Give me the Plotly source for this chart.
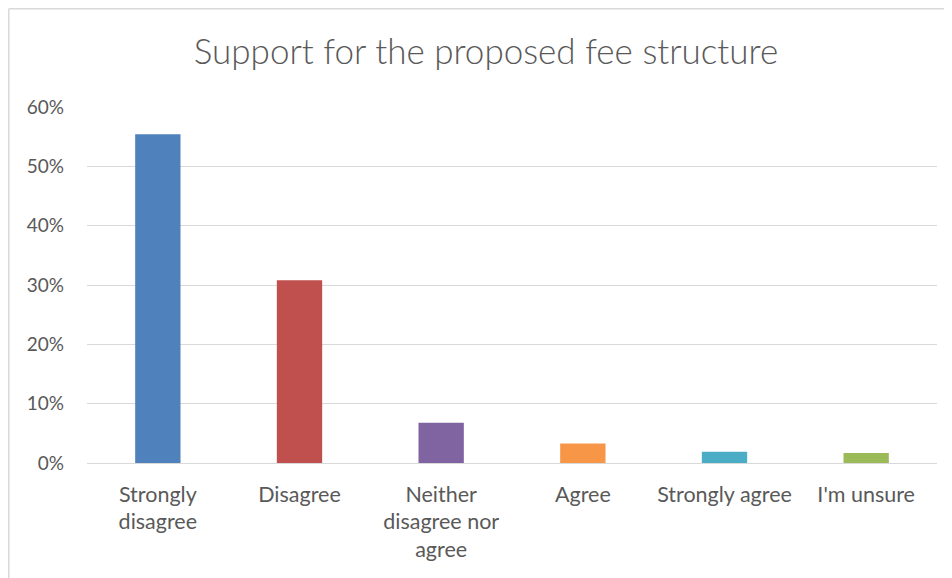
import plotly.graph_objects as go

categories = ["Strongly<br>disagree", "Disagree", "Neither<br>disagree nor<br>agree", "Agree", "Strongly agree", "I'm unsure"]
values = [0.554, 0.308, 0.068, 0.033, 0.019, 0.017]
colors = ["#4F81BD", "#C0504D", "#8064A2", "#F79646", "#4BACC6", "#9BBB59"]
y_ticks = [0, 0.1, 0.2, 0.3, 0.4, 0.5, 0.6]
y_labels = ["0%", "10%", "20%", "30%", "40%", "50%", "60%"]

# page is offset by the browser's default 8px body margin; keep figure inside the window
OFF = 8
W, H = 952 - OFF, 578 - OFF
L, R, T, B = 87 - OFF, 15, 107 - OFF, 115
pw = W - L - R
ph = H - T - B

fig = go.Figure(go.Bar(x=categories, y=values, marker=dict(color=colors, line=dict(width=0)),
                       width=0.32, hoverinfo="skip"))

font = "Lato"
txt = "#595959"

bx0 = (0.8 - L) / pw
bx1 = (W - L) / pw
by0 = (H - B - H) / ph
by1 = (H - B - 0.8) / ph
border = dict(color="#D9D9D9", width=1.5)

fig.update_layout(
    width=W, height=H,
    margin=dict(l=L, r=R, t=T, b=B),
    paper_bgcolor="white", plot_bgcolor="white",
    showlegend=False,
    font=dict(family=font, color=txt, size=19),
    title=dict(text="Support for the proposed fee structure", x=(486 - OFF) / W, xanchor="center",
               y=1 - (52 - OFF) / H, yanchor="middle", xref="container", yref="container",
               font=dict(family=font, size=35, color=txt, weight=300)),
    xaxis=dict(showgrid=False, showline=False, zeroline=False, ticks="",
               tickfont=dict(family=font, size=21.5, color=txt), ticklabelstandoff=16,
               fixedrange=True),
    yaxis=dict(range=[0, 0.6], tickvals=y_ticks, ticktext=y_labels, showgrid=True,
               gridcolor="#D9D9D9", gridwidth=1.3, zeroline=True, zerolinecolor="#D9D9D9",
               zerolinewidth=1.3, showline=False, ticks="", ticklabelstandoff=22,
               tickfont=dict(family=font, size=19, color=txt), fixedrange=True),
    shapes=[
        dict(type="line", xref="paper", yref="paper", x0=bx0, x1=bx0, y0=by0, y1=by1,
             line=border, layer="below"),
        dict(type="line", xref="paper", yref="paper", x0=bx0, x1=bx1, y0=by1, y1=by1,
             line=border, layer="below"),
    ],
)

fig.write_html("out.html")
